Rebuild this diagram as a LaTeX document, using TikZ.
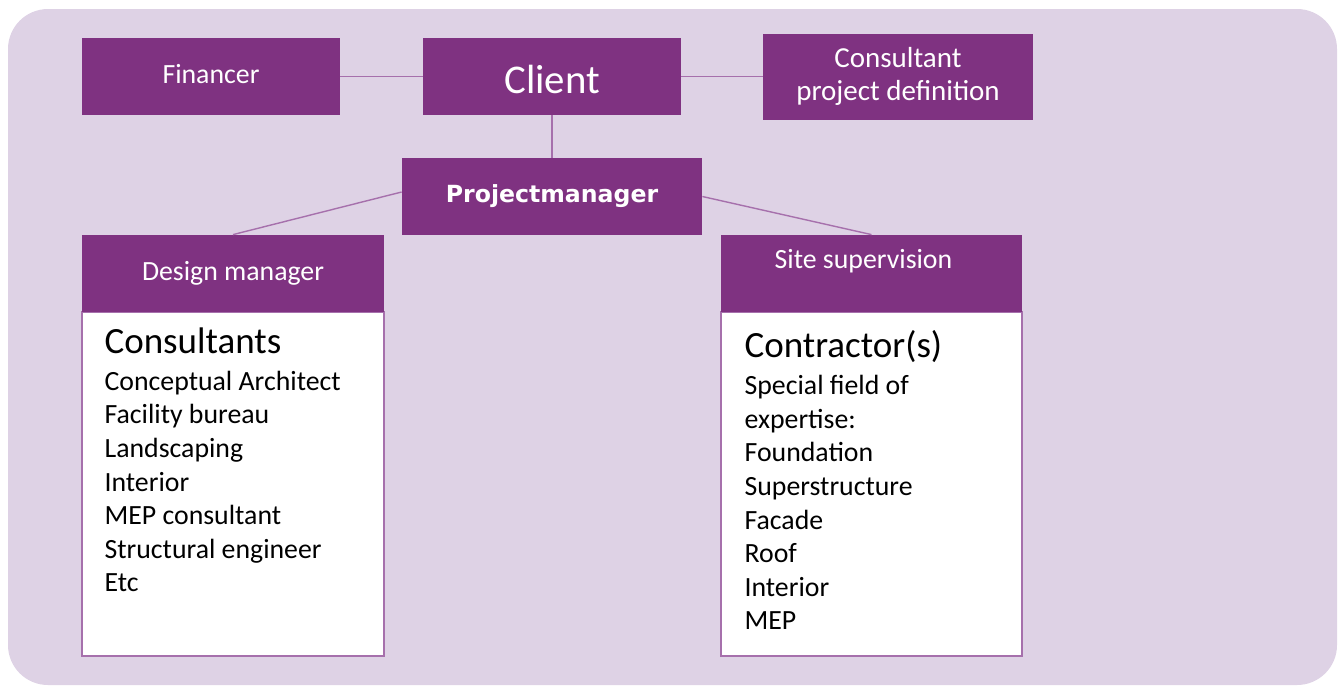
\documentclass[tikz,border=0pt]{standalone}
\usepackage{fontspec}
\setmainfont{Carlito}
\newfontfamily\pmfont{DejaVu Sans}
\usepackage{xcolor}
\usetikzlibrary{positioning}

\definecolor{bgpurple}{RGB}{222,210,229}
\definecolor{boxpurple}{RGB}{127,50,129}
\definecolor{linepurple}{RGB}{166,112,172}

\begin{document}
\begin{tikzpicture}[x=0.5pt,y=-0.5pt,on grid,
  box/.style={fill=boxpurple,text=white,inner sep=0pt,align=center,
    minimum width=129pt,minimum height=38.5pt,font=\fontsize{13.9}{16.5}\selectfont},
  body/.style={fill=white,draw=linepurple,line width=0.8pt,inner sep=0pt,
    minimum width=151pt,minimum height=172pt},
  list/.style={anchor=north west,align=left,inner sep=0pt,
    font=\fontsize{13.9}{16.8}\selectfont},
  link/.style={draw=linepurple,line width=0.7pt}]
   \useasboundingbox (0,0) rectangle (1338,687);
   \fill[bgpurple,rounded corners=20pt] (8,9) rectangle (1337,685);

   \node[box,font=\fontsize{20.4}{24}\selectfont,text height=16.5pt,text depth=0pt]
     (client) at (552,76.5) {Client};
   \node[box,text height=9.5pt,text depth=3pt] (fin) [left=170.5pt of client] {Financer};
   \node[box,minimum width=135pt,minimum height=43pt,font=\fontsize{14.5}{16.5}\selectfont]
     (cpd) [right=173pt of client] {Consultant\\project definition};
   \node[box,minimum width=150pt,font=\pmfont\bfseries\fontsize{11.8}{14}\selectfont]
     (pm) [below=60pt of client] {Projectmanager};

   \node[box,minimum width=151pt] (dm) [below left=38.5pt and 159.5pt of pm] {};
   \node[body] (dmbody) [below=105.25pt of dm] {};
   \node[box,minimum width=151pt] at (dm) {Design manager};
   \node[box,minimum width=150.5pt] (ss) [below right=38.5pt and 159.75pt of pm] {};
   \node[body,minimum width=150.5pt] (ssbody) [below=105.25pt of ss] {};
   \node[box,minimum width=150.5pt,text height=9pt,text depth=14.3pt] at (ss)
     {Site supervision\hspace{8pt}};

   \node[list] (conslist) at ([xshift=11.5pt,yshift=-8pt]dmbody.north west)
     {{\fontsize{18.5}{16.8}\selectfont Consultants}\\[1.7pt]
      Conceptual Architect\\ Facility bureau\\ Landscaping\\ Interior\\
      MEP consultant\\ Structural engineer\\ Etc};
   \node[list] (contrlist) at ([xshift=12pt,yshift=-9.5pt]ssbody.north west)
     {{\fontsize{18.5}{16.8}\selectfont Contractor(s)}\\[1.7pt]
      Special field of\\ expertise:\\ Foundation\\ Superstructure\\ Facade\\
      Roof\\ Interior\\ MEP};

   \draw[link] (fin) -- (client);
   \draw[link] (client) -- (cpd.west |- client);
   \draw[link] (client) -- (pm);
   \draw[link] ([yshift=2.25pt]pm.west) -- (dm.north);
   \draw[link] (pm.east) -- (ss.north);
\end{tikzpicture}
\end{document}
